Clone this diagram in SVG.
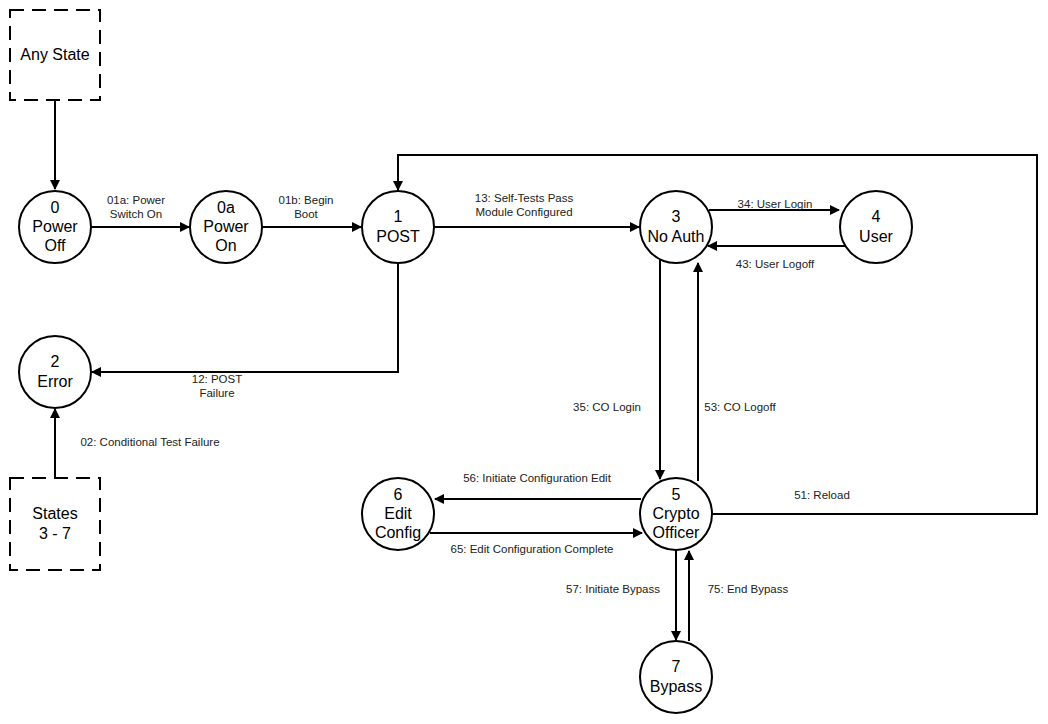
<svg xmlns="http://www.w3.org/2000/svg" width="1048" height="724" viewBox="0 0 1048 724">
<defs>
<marker id="a" viewBox="0 0 10 10" refX="9" refY="5" markerWidth="10" markerHeight="10" markerUnits="userSpaceOnUse" orient="auto"><path d="M0,0 L10,5 L0,10 z" fill="#000"/></marker>
<style>
.n{fill:#fff;stroke:#000;stroke-width:2}
.d{fill:#fff;stroke:#000;stroke-width:2;stroke-dasharray:14,8}
.t{font-family:"Liberation Sans",Arial,sans-serif;font-size:16px;text-anchor:middle;fill:#000}
.l{font-family:"Liberation Sans",Arial,sans-serif;font-size:11.5px;text-anchor:middle;fill:#222}
.c{fill:none;stroke:#000;stroke-width:2;marker-end:url(#a)}
</style>
</defs>
<rect width="1048" height="724" fill="#fff"/>
<g id="connectors">
<path class="c" d="M55,100 V189"/>
<path class="c" d="M91,227 H189"/>
<path class="c" d="M262,227 H361"/>
<path class="c" d="M434,227 H639"/>
<path class="c" d="M709,210 H839"/>
<path class="c" d="M845,246 H708"/>
<path class="c" d="M398,263 V372 H92"/>
<path class="c" d="M55,478 V409"/>
<path class="c" d="M660,260 V479"/>
<path class="c" d="M698,481 V263"/>
<path class="c" d="M641,499 H435"/>
<path class="c" d="M430,533 H642"/>
<path class="c" d="M712,514 H1037 V155 H398 V190"/>
<path class="c" d="M676,550 V640"/>
<path class="c" d="M689,641 V551"/>
</g>
<g id="labels">
<text class="l" x="136" y="204">01a: Power</text><text class="l" x="136" y="218">Switch On</text>
<text class="l" x="306" y="204">01b: Begin</text><text class="l" x="306" y="218">Boot</text>
<text class="l" x="524" y="202">13: Self-Tests Pass</text><text class="l" x="524" y="216">Module Configured</text>
<text class="l" x="775" y="208">34: User Login</text>
<text class="l" x="775" y="268">43: User Logoff</text>
<text class="l" x="217" y="383">12: POST</text><text class="l" x="217" y="397">Failure</text>
<text class="l" x="150" y="446">02: Conditional Test Failure</text>
<text class="l" x="607" y="411">35: CO Login</text>
<text class="l" x="740" y="411">53: CO Logoff</text>
<text class="l" x="537" y="482">56: Initiate Configuration Edit</text>
<text class="l" x="532" y="553">65: Edit Configuration Complete</text>
<text class="l" x="822" y="499">51: Reload</text>
<text class="l" x="613" y="593">57: Initiate Bypass</text>
<text class="l" x="748" y="593">75: End Bypass</text>
</g>
<g id="anystate"><rect class="d" x="10" y="10" width="90" height="90"/><text class="t" x="55" y="60">Any State</text></g>
<g id="states37"><rect class="d" x="10" y="478" width="90" height="92"/><text class="t" x="55" y="519">States</text><text class="t" x="55" y="539">3 - 7</text></g>
<g id="s0"><circle class="n" cx="55" cy="227" r="36"/><text class="t" x="55" y="213">0</text><text class="t" x="55" y="232">Power</text><text class="t" x="55" y="251">Off</text></g>
<g id="s0a"><circle class="n" cx="226" cy="227" r="36"/><text class="t" x="226" y="213">0a</text><text class="t" x="226" y="232">Power</text><text class="t" x="226" y="251">On</text></g>
<g id="s1"><circle class="n" cx="398" cy="227" r="36"/><text class="t" x="398" y="222">1</text><text class="t" x="398" y="242">POST</text></g>
<g id="s3"><circle class="n" cx="676" cy="227" r="36"/><text class="t" x="676" y="222">3</text><text class="t" x="676" y="242">No Auth</text></g>
<g id="s4"><circle class="n" cx="876" cy="227" r="36"/><text class="t" x="876" y="222">4</text><text class="t" x="876" y="242">User</text></g>
<g id="s2"><circle class="n" cx="55" cy="372" r="36"/><text class="t" x="55" y="367">2</text><text class="t" x="55" y="387">Error</text></g>
<g id="s6"><circle class="n" cx="398" cy="514" r="36"/><text class="t" x="398" y="500">6</text><text class="t" x="398" y="519">Edit</text><text class="t" x="398" y="538">Config</text></g>
<g id="s5"><circle class="n" cx="676" cy="514" r="36"/><text class="t" x="676" y="500">5</text><text class="t" x="676" y="519">Crypto</text><text class="t" x="676" y="538">Officer</text></g>
<g id="s7"><circle class="n" cx="676" cy="677" r="36"/><text class="t" x="676" y="672">7</text><text class="t" x="676" y="692">Bypass</text></g>
</svg>
